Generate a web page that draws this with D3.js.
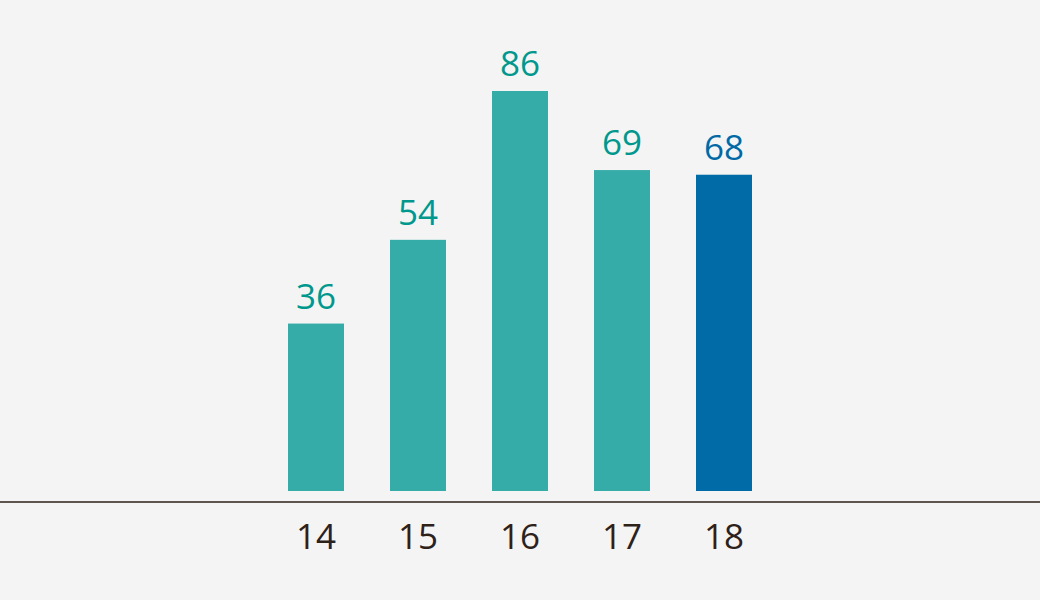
<!DOCTYPE html>
<html>
<head>
<meta charset="utf-8">
<script src="https://cdn.jsdelivr.net/npm/d3@7"></script>
<style>
  html, body { margin: 0; padding: 0; background: #f4f4f4; }
  svg { display: block; }
  text { font-family: "Open Sans", "Noto Sans", sans-serif; }
</style>
</head>
<body>
<svg id="chart" width="1040" height="600"></svg>
<script>
const categories = ["14", "15", "16", "17", "18"];
const values = [36, 54, 86, 69, 68];
const highlighted = ["18"];

const W = 1040, H = 600;
const svg = d3.select("#chart");
svg.append("rect").attr("width", W).attr("height", H).attr("fill", "#f4f4f4");

const x = d3.scaleBand().domain(categories).range([265, 775]).paddingInner(0.451).paddingOuter(0.2255);
const y = d3.scaleLinear().domain([0, 86]).range([491, 91]);

const data = categories.map((c, i) => ({ c, v: values[i], hi: highlighted.includes(c) }));

svg.selectAll("rect.bar").data(data).enter().append("rect")
  .attr("class", "bar")
  .attr("x", d => x(d.c))
  .attr("width", x.bandwidth())
  .attr("y", d => y(d.v))
  .attr("height", d => y(0) - y(d.v))
  .attr("fill", d => d.hi ? "#006ba6" : "#35aca8");

svg.selectAll("text.val").data(data).enter().append("text")
  .attr("class", "val")
  .attr("x", d => x(d.c) + x.bandwidth() / 2)
  .attr("y", d => y(d.v) - 15)
  .attr("text-anchor", "middle")
  .attr("font-size", 35)
  .attr("fill", d => d.hi ? "#0069a5" : "#00988c")
  .text(d => d.v);

// axis
const axis = d3.axisBottom(x).tickSize(0).tickPadding(0);
const g = svg.append("g").attr("transform", "translate(0,502)").call(axis);
g.select(".domain").remove();
g.selectAll(".tick text")
  .attr("dy", null)
  .attr("y", 47)
  .attr("font-size", 35)
  .attr("font-family", "Open Sans, Noto Sans, sans-serif")
  .attr("fill", "#2e2118");
svg.append("line").attr("x1", 0).attr("x2", W).attr("y1", 502).attr("y2", 502)
  .attr("stroke", "#2e2118").attr("stroke-width", 1.5);
</script>
</body>
</html>
